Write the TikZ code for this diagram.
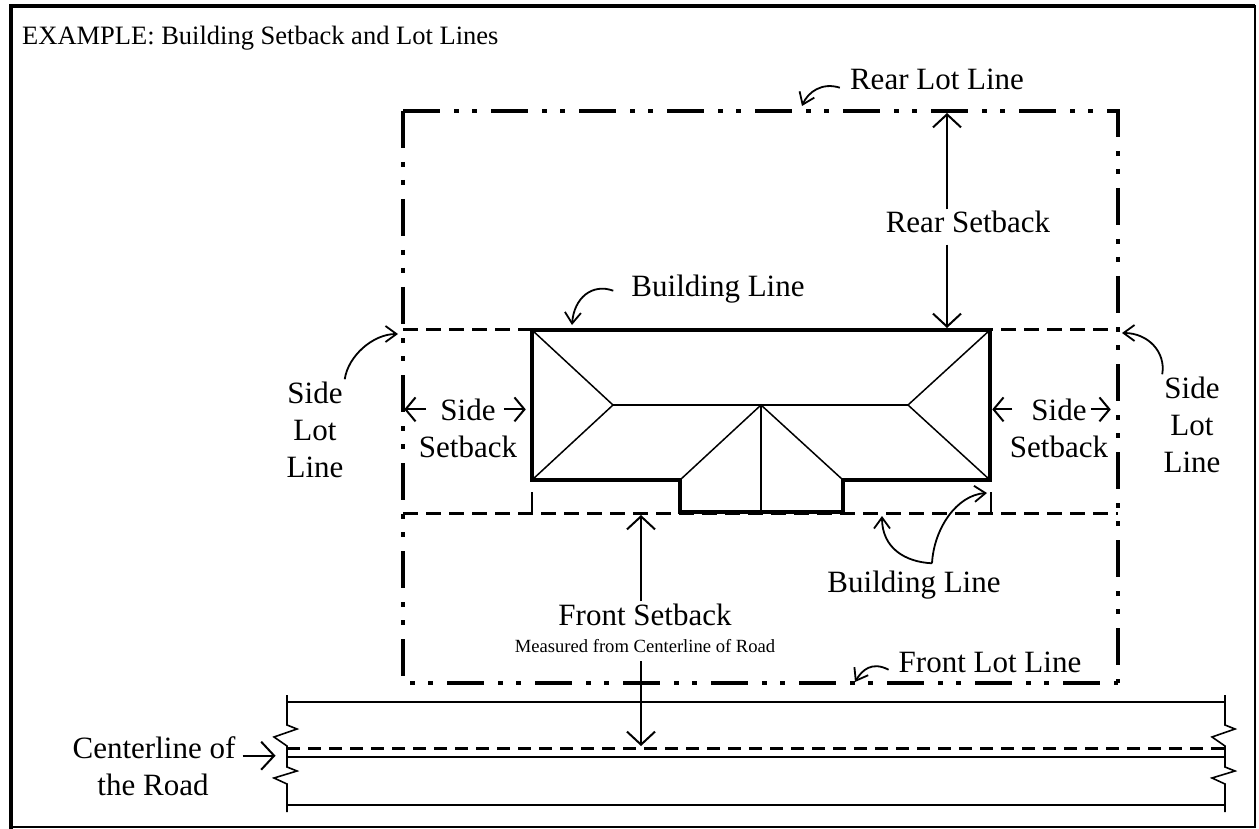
\documentclass[tikz,border=0pt]{standalone}
\usepackage{fontspec}
\setmainfont{Liberation Serif}
\usepackage{tikz}
\usetikzlibrary{arrows.meta, calc}

\begin{document}
\begin{tikzpicture}[
    x=1pt, y=-1pt,
    lbl/.style={font=\fontsize{31}{37}\selectfont, inner sep=2pt, anchor=base},
    smalllbl/.style={font=\fontsize{18.6}{22}\selectfont, inner sep=2pt, anchor=base},
    lotline/.style={line width=4pt, dash pattern=on 37pt off 14pt on 5pt off 13pt on 5pt off 14pt},
    setbackline/.style={line width=3pt, dash pattern=on 15pt off 8pt},
    wall/.style={line width=3.5pt, line join=miter},
    roof/.style={line width=1.5pt},
    roadline/.style={line width=1.6pt},
    onearrow/.style={line width=2pt, -{Straight Barb[length=13pt,width=28pt]}},
    sidearrow/.style={line width=2pt, -{Straight Barb[length=10pt,width=24pt]}},
    callout/.style={line width=1.8pt, -{Straight Barb[length=11pt,width=16pt]}}
]
\useasboundingbox (0,0) rectangle (1259,829);

% Frame and title
\draw[line width=2pt] (11,6) rectangle (1255,827);
\draw[line width=4pt] (11,829) -- (11,6) -- (1255,6);
\node[anchor=base west, inner sep=0pt, font=\fontsize{26.5}{30}\selectfont] (title) at (22,45)
    {EXAMPLE: Building Setback and Lot Lines};

% Lot lines
\draw[lotline] (403,111) -- (1118,111) -- (1118,683);
\draw[lotline] (403,111) -- (403,683) -- (1118,683);

% Setback lines
\draw[setbackline] (403,329) -- (1118,329);
\draw[setbackline] (403,513) -- (1118,513);

% Building with roof
\draw[wall] (532,330) -- (990,330) -- (990,480) -- (843,480) -- (843,512)
    -- (680,512) -- (680,480) -- (532,480) -- cycle;
\draw[roof] (532,330) -- (613,405) -- (532,480);
\draw[roof] (990,330) -- (908,405) -- (990,480);
\draw[roof] (613,405) -- (908,405);
\draw[roof] (680,480) -- (761,405) -- (843,480);
\draw[roof] (761,405) -- (761,512);
\draw[line width=2pt] (532,492) -- (532,513);
\draw[line width=2pt] (991,492) -- (991,513);

% Road
\draw[roadline] (287,702) -- (1225,702);
\draw[roadline] (287,805) -- (1225,805);
\draw[line width=2.5pt] (287,757) -- (1225,757);
\draw[line width=3pt, dash pattern=on 13pt off 8pt] (287,748) -- (1225,748);
\foreach \xe in {287,1225} {
    \draw[roadline, line join=miter] (\xe,695) -- (\xe,725) -- ++(10,4) -- ++(-23,8) -- ++(13,9)
        -- (\xe,767) -- ++(10,4) -- ++(-23,7) -- ++(13,6) -- (\xe,812);
}

% Rear lot line and rear setback
\coordinate (rearLotTip) at (802,106);
\coordinate (rearTop) at (947,113);
\coordinate (rearBot) at (947,328);
\node[lbl] (rearLot) at (937,90) {Rear Lot Line};
\draw[callout] ([xshift=-8pt]rearLot.mid west) .. controls (822,82) and (808,92) .. (rearLotTip);
\node[lbl] (rearSb) at (968,233) {Rear Setback};
\draw[onearrow] (rearSb.north -| rearTop) -- (rearTop);
\draw[onearrow, shorten <=9pt] (rearSb.south -| rearBot) -- (rearBot);

% Building lines
\coordinate (bldTopTip) at (572,325);
\coordinate (bldBotTipA) at (882,516);
\coordinate (bldBotTipB) at (987,493);
\node[lbl] (bldTop) at (718,297) {Building Line};
\draw[callout] ([xshift=-16pt,yshift=4pt]bldTop.mid west) .. controls (592,283) and (574,298) .. (bldTopTip);
\node[lbl] (bldBot) at (914,592) {Building Line};
\draw[callout] ([xshift=18pt,yshift=5pt]bldBot.north) .. controls (905,562) and (882,548) .. (bldBotTipA);
\draw[callout] ([xshift=18pt,yshift=5pt]bldBot.north) .. controls (934,528) and (957,495) .. (bldBotTipB);

% Side lot lines
\coordinate (sideLotTipL) at (398,334);
\coordinate (sideLotTipR) at (1122,333);
\node[lbl] (sideLotL1) at (315,403) {Side};
\node[lbl] (sideLotL2) at (315,440) {Lot};
\node[lbl] (sideLotL3) at (315,477) {Line};
\draw[callout] (sideLotL1.north east) .. controls (348,356) and (373,334) .. (sideLotTipL);
\node[lbl] (sideLotR1) at (1192,398) {Side};
\node[lbl] (sideLotR2) at (1192,435) {Lot};
\node[lbl] (sideLotR3) at (1192,472) {Line};
\draw[callout] (sideLotR1.north west) .. controls (1166,352) and (1148,333) .. (sideLotTipR);

% Side setbacks
\node[lbl] (sideSbL) at (468,420) {Side};
\node[lbl] (setbackL) at (468,457) {Setback};
\draw[sidearrow] ([xshift=-12pt]sideSbL.west) -- ++(-22,0);
\draw[sidearrow] ([xshift=6pt]sideSbL.east) -- ++(22,0);
\node[lbl] (sideSbR) at (1059,420) {Side};
\node[lbl] (setbackR) at (1059,457) {Setback};
\draw[sidearrow] ([xshift=-17pt]sideSbR.west) -- ++(-20,0);
\draw[sidearrow] ([xshift=2pt]sideSbR.east) -- ++(20,0);

% Front setback and front lot line
\coordinate (frontTop) at (641,515);
\coordinate (frontBot) at (641,746);
\coordinate (frontLotTip) at (855,682);
\node[lbl] (frontSb) at (645,625) {Front Setback};
\node[smalllbl] (frontMeas) at (645,652) {Measured from Centerline of Road};
\draw[onearrow] (frontSb.north -| frontTop) -- (frontTop);
\draw[onearrow, shorten <=7pt] (frontMeas.south -| frontBot) -- (frontBot);
\node[lbl] (frontLot) at (990,672) {Front Lot Line};
\draw[callout] ([xshift=-8pt]frontLot.mid west) .. controls (872,661) and (862,670) .. (frontLotTip);

% Centerline of the road
\node[lbl] (centerA) at (154,758) {Centerline of};
\node[lbl] (centerB) at (153,795) {the Road};
\draw[onearrow] ([xshift=5pt]centerA.mid east) -- ++(33,0);

\end{tikzpicture}
\end{document}
